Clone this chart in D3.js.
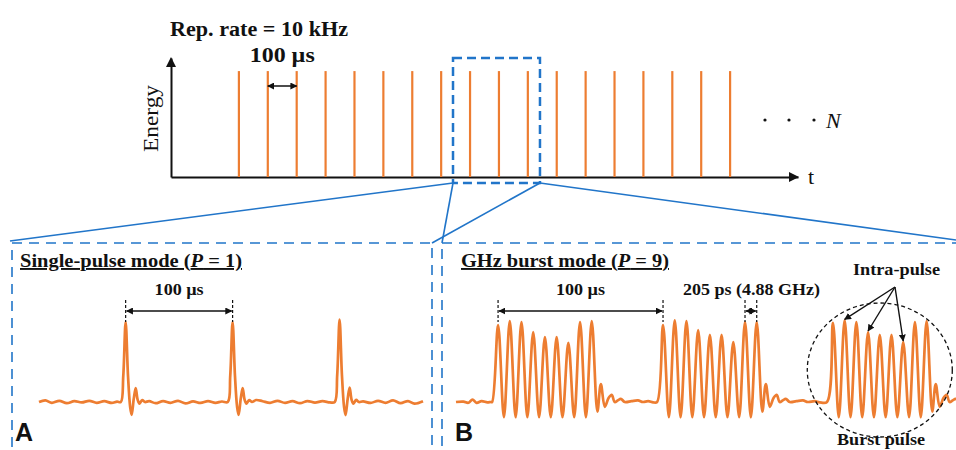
<!DOCTYPE html>
<html>
<head>
<meta charset="utf-8">
<script src="https://cdn.jsdelivr.net/npm/d3@7"></script>
<style>
body{margin:0;background:#fff}
svg{display:block}
text{font-family:"Liberation Serif","Times New Roman",serif;font-weight:bold;fill:#111}
</style>
</head>
<body>
<svg width="956" height="450"></svg>
<script>
// top train: pulse times (us) and energies
var topPulseTimes=[235,335,435,535,635,735,835,935,1035,1135,1235,1335,1435,1535,1635,1735,1835,1935];
var topPulseEnergy=[0.89,0.89,0.89,0.89,0.89,0.89,0.89,0.89,0.89,0.89,0.89,0.89,0.89,0.89,0.89,0.89,0.89,0.89];
var zoomWindow=[976,1277];   // dashed box on the top axis (us)

// single pulse mode (A)
var singlePeakTimes=[0,100,200];
var singlePeakAmps=[1.0,1.0,1.03];
var singleShape=[[-4.5,0],[-2.2,0.33],[0,1],[2.2,0.33],[4.2,-0.06],[5.6,-0.16],[7.6,0.04],[9.4,0.175],[11.2,0.03],[13,-0.02],[15.5,0.025],[18,0]];
var singleRipple=[[-81,0],[-75,0.02],[-69,-0.01],[-62,0.015],[-55,-0.015],[-48,0.01],[-41,-0.005],[-34,0.015],[-27,-0.01],[-20,0.01],[-13,-0.012],[-8,0.004],
  [22,0.01],[28,-0.015],[35,0.012],[42,-0.01],[49,0.015],[56,-0.018],[63,0.008],[70,-0.012],[77,0.01],[84,-0.01],[90,0.006],
  [122,0.025],[128,0.01],[135,-0.01],[142,0.015],[149,-0.012],[156,0.01],[163,-0.015],[170,0.012],[177,-0.008],[184,0.01],[191,-0.005],
  [222,0.008],[229,-0.012],[236,0.015],[243,-0.01],[250,0.02],[257,-0.015],[264,0.012],[270,-0.02],[278,0.01]];

// GHz burst mode (B)
var burstStarts=[0,100,203];
var subPulseGap=7.1;
var burstAmps=[
  [0.96,1.01,1.0,0.875,0.81,0.81,0.74,1.0,1.01],
  [0.96,1.02,1.01,0.9,0.84,0.84,0.75,1.0,1.0],
  [0.99,1.02,1.0,0.875,0.84,0.84,0.75,1.0,1.01]];
var troughAmp=-0.19;
var burstTail=[[3.4,-0.12],[5.5,0.225],[7.9,-0.06],[10.2,0.05],[12.1,0.09],[13.9,0],[15.8,0.02],[17.6,0.04],[20,0],[24,0.01],[28,0.02],[31,0]];
var burstRipple=[[-25.5,0],[-21,0.005],[-18,-0.01],[-15.5,0.03],[-13,-0.01],[-10,0.01],[-6.5,-0.005],[-4.5,0],
  [91,0.01],[94,-0.005],[96.4,0],
  [192,0.01],[195,-0.004],[199.4,0]];

var orange='#ED7D31', blue='#2175C9';
var svg=d3.select('svg');

var defs=svg.append('defs');
defs.append('marker').attr('id','ah').attr('viewBox','0 0 10 10').attr('refX',9).attr('refY',5)
  .attr('markerWidth',7).attr('markerHeight',7).attr('markerUnits','userSpaceOnUse')
  .attr('orient','auto-start-reverse')
  .append('path').attr('d','M0,0L10,5L0,10z').attr('fill','#111');

// text helper: size + stretched width like the original figure
function label(g,x,y,size,width,txt,anchor){
  var t=g.append('text').attr('x',x).attr('y',y).attr('font-size',size)
    .attr('text-anchor',anchor||'start');
  if(width) t.attr('textLength',width).attr('lengthAdjust','spacingAndGlyphs');
  t.html(txt);
  return t;
}

// ---------- top pulse train ----------
var xTop=d3.scaleLinear().domain([0,2170]).range([171,798]);
var yTop=d3.scaleLinear().domain([0,1]).range([177,58]);

var topG=svg.append('g');
topG.append('g').attr('transform','translate(0,'+yTop(0)+')')
  .call(d3.axisBottom(xTop).tickValues([]).tickSizeOuter(0))
  .select('.domain').attr('stroke','#111').attr('stroke-width',2);
topG.append('g').attr('transform','translate('+xTop(0)+',0)')
  .call(d3.axisLeft(yTop).tickValues([]).tickSizeOuter(0))
  .select('.domain').attr('stroke','#111').attr('stroke-width',2);
// arrow heads
topG.append('path').attr('d','M'+(xTop.range()[1]+1)+','+yTop(0)+'l-10,-5v10z').attr('fill','#111');
topG.append('path').attr('d','M'+xTop(0)+','+(yTop.range()[1]-1)+'l-5,10h10z').attr('fill','#111');

topG.selectAll('line.pulse').data(topPulseTimes).enter().append('line')
  .attr('class','pulse')
  .attr('x1',function(d){return xTop(d);}).attr('x2',function(d){return xTop(d);})
  .attr('y1',yTop(0)).attr('y2',function(d,i){return yTop(topPulseEnergy[i]);})
  .attr('stroke',orange).attr('stroke-width',2.2);

label(topG,170,36,20,178,'Rep. rate = 10 kHz');
label(topG,(xTop(topPulseTimes[1])+xTop(topPulseTimes[2]))/2,62,22,65,'100 \u00b5s','middle');
topG.append('line').attr('x1',xTop(topPulseTimes[1])).attr('x2',xTop(topPulseTimes[2]))
  .attr('y1',86).attr('y2',86).attr('stroke','#111').attr('stroke-width',1.5)
  .attr('marker-start','url(#ah)').attr('marker-end','url(#ah)');
topG.append('text').attr('transform','translate(158,118.5)rotate(-90)').attr('text-anchor','middle')
  .attr('font-size',22).style('font-weight','normal')
  .attr('textLength',67).attr('lengthAdjust','spacingAndGlyphs').text('Energy');
topG.append('text').attr('x',808).attr('y',184).attr('font-size',22).style('font-weight','normal').text('t');
topG.selectAll('circle.dot').data([765,789,814]).enter().append('circle')
  .attr('cx',function(d){return d;}).attr('cy',120).attr('r',1.6).attr('fill','#111');
topG.append('text').attr('x',826).attr('y',128).attr('font-size',22).style('font-weight','normal')
  .style('font-style','italic').text('N');

// dashed zoom box
var boxL=xTop(zoomWindow[0]), boxR=xTop(zoomWindow[1]), boxT=58, boxB=183;
topG.append('rect').attr('x',boxL).attr('y',boxT).attr('width',boxR-boxL).attr('height',boxB-boxT)
  .attr('fill','none').attr('stroke',blue).attr('stroke-width',2.5).attr('stroke-dasharray','9,5');

// connecting lines
var panelTop=243;
var links=[[boxL,boxB,10,panelTop-2],[boxL,boxB,442,panelTop],[boxR,boxB,432,panelTop],[boxR,boxB,956,panelTop-3]];
svg.selectAll('line.link').data(links).enter().append('line').attr('class','link')
  .attr('x1',function(d){return d[0];}).attr('y1',function(d){return d[1];})
  .attr('x2',function(d){return d[2];}).attr('y2',function(d){return d[3];})
  .attr('stroke',blue).attr('stroke-width',1.6);

// panels
svg.append('rect').attr('x',12).attr('y',panelTop).attr('width',420).attr('height',260)
  .attr('fill','none').attr('stroke',blue).attr('stroke-width',1.6).attr('stroke-dasharray','10,7');
svg.append('rect').attr('x',442).attr('y',panelTop).attr('width',530).attr('height',260)
  .attr('fill','none').attr('stroke',blue).attr('stroke-width',1.6).attr('stroke-dasharray','10,7');

function mergeTrace(events,ripple,windows){
  var pts=ripple.filter(function(p){
    return !windows.some(function(w){return p[0]>=w[0]&&p[0]<=w[1];});
  }).concat(events);
  pts.sort(function(a,b){return a[0]-b[0];});
  return pts;
}

// ---------- panel A ----------
var xA=d3.scaleLinear().domain([-81,278]).range([39,423]);
var yA=d3.scaleLinear().domain([0,1]).range([402,322]);
var evA=[], winA=[];
singlePeakTimes.forEach(function(t,i){
  singleShape.forEach(function(p){evA.push([t+p[0],singlePeakAmps[i]*p[1]]);});
  winA.push([t+singleShape[0][0],t+singleShape[singleShape.length-1][0]]);
});
var traceA=mergeTrace(evA,singleRipple,winA);
var lineA=d3.line().x(function(d){return xA(d[0]);}).y(function(d){return yA(d[1]);}).curve(d3.curveCatmullRom.alpha(0.5));
svg.append('path').datum(traceA).attr('d',lineA).attr('fill','none').attr('stroke',orange).attr('stroke-width',2.7);

label(svg,20,267,19,222,'Single-pulse mode (<tspan font-style="italic">P</tspan> = 1)').style('text-decoration','underline');

function spanMark(x1,x2){
  [x1,x2].forEach(function(x){
    svg.append('line').attr('x1',x).attr('x2',x).attr('y1',300).attr('y2',322)
      .attr('stroke','#111').attr('stroke-width',1.2).attr('stroke-dasharray','3,2');
  });
  svg.append('line').attr('x1',x1+1).attr('x2',x2-1).attr('y1',311).attr('y2',311)
    .attr('stroke','#111').attr('stroke-width',1.5)
    .attr('marker-start','url(#ah)').attr('marker-end','url(#ah)');
}
spanMark(xA(singlePeakTimes[0]),xA(singlePeakTimes[1]));
label(svg,(xA(singlePeakTimes[0])+xA(singlePeakTimes[1]))/2,295,17,49,'100 \u00b5s','middle');

svg.append('text').attr('x',15).attr('y',441).attr('font-size',25)
  .style('font-family','"Liberation Sans",Arial,sans-serif').text('A');

// ---------- panel B ----------
var xB=d3.scaleLinear().domain([-25.5,277.6]).range([456,956]);
var yB=d3.scaleLinear().domain([0,1]).range([402,322]);
var evB=[], winB=[];
burstStarts.forEach(function(s,b){
  evB.push([s-3.6,0]);
  burstAmps[b].forEach(function(a,k){
    evB.push([s+k*subPulseGap,a]);
    if(k<burstAmps[b].length-1) evB.push([s+(k+0.5)*subPulseGap,troughAmp]);
  });
  var last=s+(burstAmps[b].length-1)*subPulseGap;
  burstTail.forEach(function(p){evB.push([last+p[0],p[1]]);});
  winB.push([s-3.6,last+burstTail[burstTail.length-1][0]]);
});
var traceB=mergeTrace(evB,burstRipple,winB);
var lineB=d3.line().x(function(d){return xB(d[0]);}).y(function(d){return yB(d[1]);}).curve(d3.curveCatmullRom.alpha(0.5));
svg.append('path').datum(traceB).attr('d',lineB).attr('fill','none').attr('stroke',orange).attr('stroke-width',2.7);

label(svg,461,267,19,208,'GHz burst mode (<tspan font-style="italic">P</tspan> = 9)').style('text-decoration','underline');

spanMark(xB(burstStarts[0]),xB(burstStarts[1]));
label(svg,(xB(burstStarts[0])+xB(burstStarts[1]))/2,295,17,49,'100 \u00b5s','middle');
spanMark(xB(burstStarts[1]+7*subPulseGap),xB(burstStarts[1]+8*subPulseGap));
label(svg,683,295,17,137,'205 ps (4.88 GHz)');

// burst pulse ellipse + intra-pulse arrows
var b3=burstStarts[2];
svg.append('ellipse').attr('cx',xB(b3+4*subPulseGap)).attr('cy',370).attr('rx',72.5).attr('ry',67)
  .attr('fill','none').attr('stroke','#111').attr('stroke-width',1.3).attr('stroke-dasharray','4,3');
[1,3,6].forEach(function(k){
  svg.append('line').attr('x1',895).attr('y1',287)
    .attr('x2',xB(b3+k*subPulseGap)).attr('y2',yB(burstAmps[2][k])-1)
    .attr('stroke','#111').attr('stroke-width',1.4).attr('marker-end','url(#ah)');
});
label(svg,896.5,275,17,87,'Intra-pulse','middle');
label(svg,881,445,16.5,88,'Burst pulse','middle');

svg.append('text').attr('x',455).attr('y',441).attr('font-size',25)
  .style('font-family','"Liberation Sans",Arial,sans-serif').text('B');
</script>
</body>
</html>
